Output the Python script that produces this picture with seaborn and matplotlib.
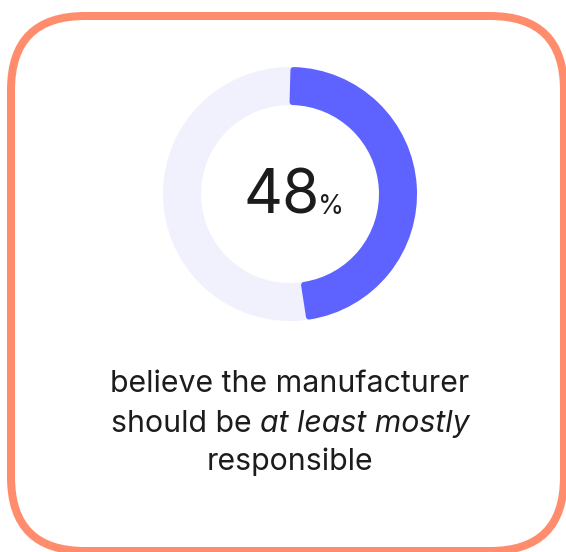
import numpy as np
import matplotlib
matplotlib.use("Agg")
import matplotlib.pyplot as plt
from matplotlib.patches import FancyBboxPatch, Wedge
import seaborn as sns

# --- data -------------------------------------------------------------
share_labels = ["at least mostly responsible", "other"]
share_values = [48, 52]
headline_value = share_values[0]
caption_lines = ["believe the manufacturer", "should be ", "at least mostly", "responsible"]

# --- style ------------------------------------------------------------
sns.set_theme(style="white")
plt.rcParams["font.family"] = ["Inter", "DejaVu Sans"]

BLUE = "#5E63FF"
TRACK = "#F1F1FD"
ORANGE = "#FF8D6D"
INK = "#1C1C1C"

W, H = 566, 552
fig = plt.figure(figsize=(W / 100, H / 100), dpi=100)
fig.patch.set_facecolor("white")
ax = fig.add_axes([0, 0, 1, 1])

# card outline
card = FancyBboxPatch((11, H - 551), 553, 535,
                      boxstyle="round,pad=0,rounding_size=74",
                      facecolor="white", edgecolor=ORANGE, linewidth=8 * 72 / 100,
                      zorder=1)
ax.add_patch(card)

# donut
cx, cy = 290, H - 194
r_out, ring = 127, 38

# full background track
ax.pie([100], colors=[TRACK], radius=r_out, center=(cx, cy),
       wedgeprops=dict(width=ring, linewidth=0), startangle=90)

# highlighted share, drawn clockwise from 12 o'clock with softened corners
stroke_px = 6
r_mid = r_out - ring / 2
delta = np.degrees((stroke_px / 2) / r_mid)
span = 360 * headline_value / sum(share_values)
theta2 = 90 - delta
theta1 = 90 - span + delta
arc = Wedge((cx, cy), r_out - stroke_px / 2, theta1, theta2,
            width=ring - stroke_px, facecolor=BLUE, edgecolor=BLUE,
            linewidth=stroke_px * 72 / 100, joinstyle="round", zorder=3)
ax.add_patch(arc)

ax.set_xlim(0, W)
ax.set_ylim(0, H)
ax.set_aspect("equal")
ax.axis("off")

# centre figure
fig.canvas.draw()
renderer = fig.canvas.get_renderer()

num = ax.text(0, H - 214, f"{headline_value}", fontsize=43.5, color=INK,
              va="baseline", ha="left", zorder=5)
pct = ax.text(0, H - 214, "%", fontsize=19, color=INK,
              va="baseline", ha="left", zorder=5)
wn = num.get_window_extent(renderer).width
wp = pct.get_window_extent(renderer).width
gap = -2
x0 = 294 - (wn + gap + wp) / 2
num.set_x(x0)
pct.set_x(x0 + wn + gap)

# caption
fs = 21.8
xc = W / 2 + 7
ax.text(xc, H - 392, caption_lines[0], fontsize=fs, color=INK,
        ha="center", va="baseline")
a = ax.text(0, H - 432, caption_lines[1], fontsize=fs, color=INK,
            ha="left", va="baseline")
b = ax.text(0, H - 432, caption_lines[2], fontsize=fs, color=INK,
            ha="left", va="baseline", style="italic")
wa = a.get_window_extent(renderer).width
wb = b.get_window_extent(renderer).width
xs = xc - (wa + wb) / 2
a.set_x(xs)
b.set_x(xs + wa)
ax.text(xc, H - 470, caption_lines[3], fontsize=fs, color=INK,
        ha="center", va="baseline")

fig.savefig("out.png", dpi=100, facecolor="white")
